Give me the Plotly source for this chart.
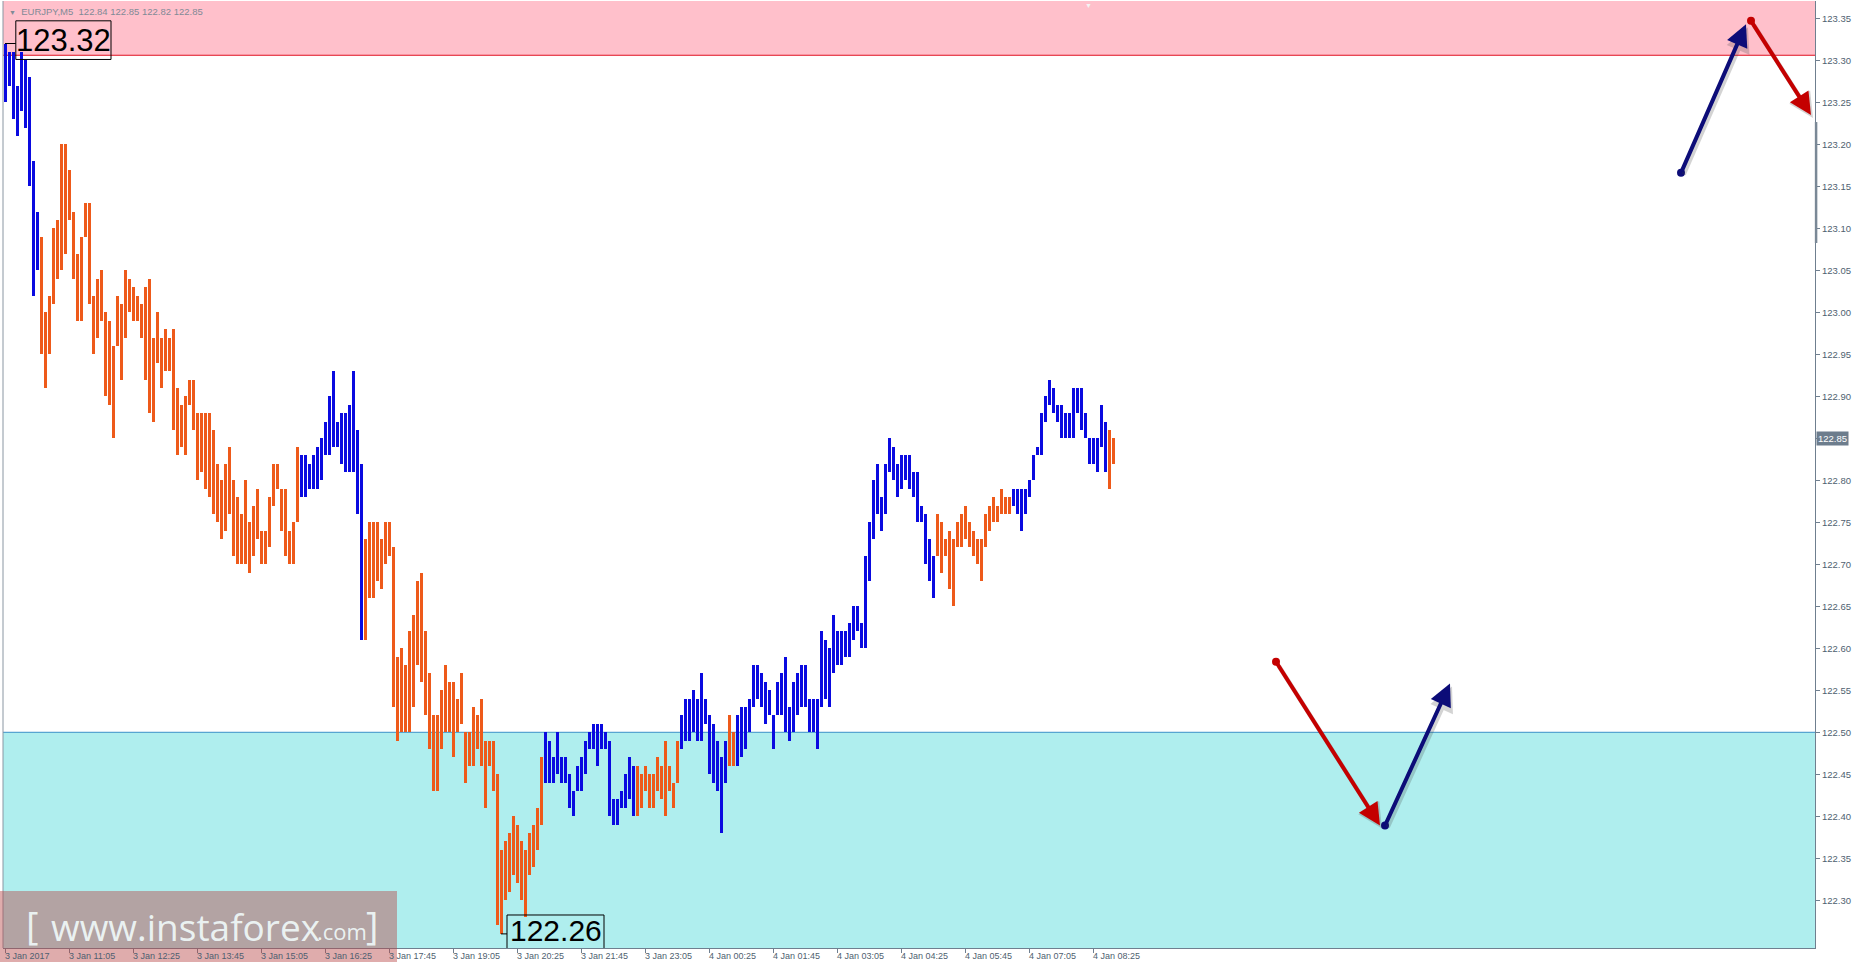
import numpy as np
import plotly.graph_objects as go

# ---------------- data (EURJPY M5) ----------------
bar_high = [
    123.32, 123.31, 123.31, 123.27, 123.31, 123.30, 123.28, 123.18, 123.12, 123.09,
    123.00, 123.02, 123.10, 123.11, 123.20, 123.20, 123.17, 123.12, 123.07, 123.09,
    123.13, 123.13, 123.02, 123.04, 123.05, 123.00, 122.99, 122.96, 123.02, 123.01,
    123.05, 123.04, 123.03, 123.02, 123.01, 123.03, 123.04, 122.97, 123.00, 122.97,
    122.98, 122.97, 122.98, 122.91, 122.89, 122.90, 122.92, 122.92, 122.88, 122.88,
    122.88, 122.88, 122.86, 122.82, 122.80, 122.82, 122.84, 122.80, 122.78, 122.76,
    122.80, 122.75, 122.77, 122.79, 122.74, 122.74, 122.78, 122.82, 122.82, 122.79,
    122.79, 122.74, 122.75, 122.84, 122.83, 122.83, 122.82, 122.83, 122.84, 122.85,
    122.87, 122.90, 122.93, 122.87, 122.88, 122.88, 122.89, 122.93, 122.86, 122.82,
    122.73, 122.75, 122.75, 122.75, 122.73, 122.75, 122.75, 122.72, 122.59, 122.60,
    122.58, 122.62, 122.64, 122.68, 122.69, 122.62, 122.57, 122.52, 122.52, 122.55,
    122.58, 122.56, 122.56, 122.54, 122.57, 122.50, 122.50, 122.53, 122.52, 122.54,
    122.49, 122.49, 122.49, 122.45, 122.36, 122.37, 122.38, 122.40, 122.39, 122.37,
    122.36, 122.38, 122.39, 122.41, 122.47, 122.50, 122.49, 122.47, 122.50, 122.47,
    122.47, 122.45, 122.43, 122.46, 122.47, 122.49, 122.50, 122.51, 122.51, 122.51,
    122.50, 122.49, 122.42, 122.42, 122.43, 122.45, 122.47, 122.46, 122.46, 122.45,
    122.46, 122.45, 122.45, 122.47, 122.46, 122.49, 122.46, 122.44, 122.49, 122.52,
    122.54, 122.54, 122.55, 122.54, 122.57, 122.54, 122.52, 122.51, 122.49, 122.47,
    122.49, 122.52, 122.50, 122.52, 122.53, 122.53, 122.54, 122.58, 122.58, 122.57,
    122.56, 122.55, 122.52, 122.56, 122.57, 122.59, 122.53, 122.56, 122.57, 122.58,
    122.58, 122.54, 122.54, 122.54, 122.62, 122.61, 122.60, 122.64, 122.62, 122.62,
    122.62, 122.63, 122.65, 122.65, 122.63, 122.71, 122.75, 122.80, 122.82, 122.78,
    122.82, 122.85, 122.84, 122.82, 122.83, 122.83, 122.83, 122.81, 122.81, 122.77,
    122.76, 122.73, 122.71, 122.76, 122.75, 122.73, 122.74, 122.73, 122.75, 122.76,
    122.77, 122.75, 122.74, 122.73, 122.73, 122.76, 122.77, 122.78, 122.77, 122.79,
    122.78, 122.78, 122.79, 122.79, 122.79, 122.79, 122.80, 122.83, 122.84, 122.88,
    122.90, 122.92, 122.91, 122.89, 122.89, 122.88, 122.88, 122.91, 122.91, 122.91,
    122.88, 122.85, 122.85, 122.85, 122.89, 122.87, 122.86, 122.85,
]
bar_low = [
    123.25, 123.27, 123.23, 123.21, 123.24, 123.22, 123.15, 123.02, 123.05, 122.95,
    122.91, 122.95, 123.01, 123.04, 123.05, 123.07, 123.11, 123.04, 122.99, 122.99,
    123.09, 123.01, 122.95, 122.97, 122.99, 122.90, 122.89, 122.85, 122.96, 122.92,
    122.97, 123.00, 122.99, 122.99, 122.97, 122.92, 122.88, 122.87, 122.94, 122.91,
    122.93, 122.93, 122.86, 122.83, 122.84, 122.83, 122.89, 122.86, 122.80, 122.81,
    122.79, 122.78, 122.76, 122.75, 122.73, 122.74, 122.76, 122.71, 122.70, 122.70,
    122.70, 122.69, 122.71, 122.73, 122.70, 122.70, 122.72, 122.77, 122.79, 122.74,
    122.71, 122.70, 122.70, 122.75, 122.78, 122.78, 122.79, 122.79, 122.79, 122.80,
    122.83, 122.83, 122.84, 122.84, 122.82, 122.81, 122.81, 122.81, 122.76, 122.61,
    122.61, 122.66, 122.66, 122.68, 122.67, 122.70, 122.71, 122.53, 122.49, 122.50,
    122.50, 122.50, 122.53, 122.58, 122.56, 122.52, 122.48, 122.43, 122.43, 122.48,
    122.50, 122.50, 122.47, 122.50, 122.51, 122.44, 122.46, 122.46, 122.48, 122.46,
    122.41, 122.46, 122.43, 122.27, 122.26, 122.30, 122.31, 122.33, 122.32, 122.30,
    122.28, 122.33, 122.34, 122.36, 122.39, 122.44, 122.44, 122.44, 122.45, 122.44,
    122.44, 122.41, 122.40, 122.43, 122.43, 122.45, 122.48, 122.48, 122.46, 122.48,
    122.48, 122.40, 122.39, 122.39, 122.41, 122.41, 122.42, 122.40, 122.40, 122.41,
    122.43, 122.41, 122.41, 122.43, 122.42, 122.40, 122.43, 122.41, 122.44, 122.48,
    122.49, 122.49, 122.50, 122.49, 122.49, 122.51, 122.45, 122.44, 122.43, 122.38,
    122.44, 122.46, 122.46, 122.46, 122.47, 122.48, 122.50, 122.53, 122.54, 122.53,
    122.51, 122.52, 122.48, 122.52, 122.52, 122.50, 122.49, 122.50, 122.52, 122.53,
    122.53, 122.50, 122.50, 122.48, 122.53, 122.54, 122.53, 122.57, 122.58, 122.58,
    122.59, 122.59, 122.61, 122.62, 122.60, 122.60, 122.68, 122.73, 122.76, 122.74,
    122.76, 122.81, 122.80, 122.78, 122.79, 122.80, 122.79, 122.78, 122.75, 122.75,
    122.70, 122.68, 122.66, 122.71, 122.69, 122.71, 122.67, 122.65, 122.72, 122.72,
    122.73, 122.72, 122.71, 122.70, 122.68, 122.72, 122.74, 122.75, 122.75, 122.76,
    122.76, 122.76, 122.77, 122.76, 122.74, 122.76, 122.78, 122.80, 122.83, 122.83,
    122.87, 122.89, 122.88, 122.87, 122.85, 122.85, 122.85, 122.85, 122.88, 122.86,
    122.85, 122.82, 122.82, 122.81, 122.84, 122.81, 122.79, 122.82,
]
# runs of bars (first, last index) coloured as rising wave, the rest are falling
up_runs = [(0, 8), (74, 89), (135, 157), (169, 180), (183, 232), (252, 275)]

time_labels = ["3 Jan 2017", "3 Jan 11:05", "3 Jan 12:25", "3 Jan 13:45", "3 Jan 15:05",
               "3 Jan 16:25", "3 Jan 17:45", "3 Jan 19:05", "3 Jan 20:25", "3 Jan 21:45",
               "3 Jan 23:05", "4 Jan 00:25", "4 Jan 01:45", "4 Jan 03:05", "4 Jan 04:25",
               "4 Jan 05:45", "4 Jan 07:05", "4 Jan 08:25"]
label_step = 16  # bars between time labels

resistance_level = 123.306
support_level = 122.50
last_price = 122.85
header_text = "EURJPY,M5  122.84 122.85 122.82 122.85"

# forecast arrows: (bar index, price) start -> end
arrow_x0 = [419.0, 436.5, 317.75, 345.0]
arrow_y0 = [123.166, 123.347, 122.584, 122.389]
arrow_x1 = [435.25, 451.5, 343.75, 361.25]
arrow_y1 = [123.343, 123.235, 122.389, 122.558]
arrow_up = [True, False, False, True]

# ---------------- styling ----------------
UP_COLOR = "#0a0ae0"
DN_COLOR = "#ee5a1a"
AX_COLOR = "#6f7f8f"
TXT_COLOR = "#4f5f70"
X_RANGE = [-0.5, 452.5]
Y_RANGE = [122.2432, 123.3706]

n = len(bar_high)
idx = list(range(n))
colors = [DN_COLOR] * n
for a, b in up_runs:
    for k in range(a, b + 1):
        colors[k] = UP_COLOR

fig = go.Figure()
fig.add_trace(go.Bar(
    x=idx,
    y=[h - l for h, l in zip(bar_high, bar_low)],
    base=bar_low,
    width=0.75,
    marker=dict(color=colors, line=dict(width=0)),
    hoverinfo="skip",
))

shapes = []
# resistance zone (pink) and support zone (cyan)
shapes.append(dict(type="rect", xref="paper", yref="y", x0=0, x1=1,
                   y0=resistance_level, y1=Y_RANGE[1] + 0.01,
                   fillcolor="#ffc0cb", line=dict(width=0), layer="below"))
shapes.append(dict(type="line", xref="paper", yref="y", x0=0, x1=1,
                   y0=resistance_level, y1=resistance_level,
                   line=dict(color="#e01020", width=1), layer="below"))
shapes.append(dict(type="rect", xref="paper", yref="y", x0=0, x1=1,
                   y0=Y_RANGE[0] - 0.01, y1=support_level,
                   fillcolor="#afeeee", line=dict(width=0), layer="below"))
shapes.append(dict(type="line", xref="paper", yref="y", x0=0, x1=1,
                   y0=support_level, y1=support_level,
                   line=dict(color="#3a90c8", width=1), layer="below"))

# extreme labels
i_hi = int(np.argmax(bar_high))
i_lo = int(np.argmin(bar_low))
hi_val = bar_high[i_hi]
lo_val = bar_low[i_lo]
# box for the high
bx0, bx1 = i_hi + 2.7, i_hi + 26.5
shapes.append(dict(type="line", xref="x", yref="y", x0=i_hi, x1=bx0, y0=hi_val, y1=hi_val,
                   line=dict(color="black", width=1)))
shapes.append(dict(type="rect", xref="x", yref="y", x0=bx0, x1=bx1,
                   y0=hi_val - 0.019, y1=hi_val + 0.027,
                   line=dict(color="black", width=1), fillcolor="rgba(0,0,0,0)"))
# box for the low
lx0, lx1 = i_lo + 1.5, i_lo + 25.75
shapes.append(dict(type="line", xref="x", yref="y", x0=i_lo, x1=lx0, y0=lo_val, y1=lo_val,
                   line=dict(color="black", width=1)))
shapes.append(dict(type="rect", xref="x", yref="y", x0=lx0, x1=lx1,
                   y0=lo_val - 0.03, y1=lo_val + 0.0225,
                   line=dict(color="black", width=1), fillcolor="rgba(0,0,0,0)"))

# left border and axis scroll marker
shapes.append(dict(type="line", xref="paper", yref="paper", x0=0, x1=0, y0=0, y1=1,
                   line=dict(color="#8a96a2", width=1)))
shapes.append(dict(type="line", xref="paper", yref="y", x0=1.0006, x1=1.0006,
                   y0=123.0825, y1=123.2265, line=dict(color="#7a8896", width=2.5)))

# watermark box
shapes.append(dict(type="rect", xref="paper", yref="paper",
                   x0=-3 / 1812, x1=394 / 1812, y0=-14 / 947, y1=57 / 947,
                   fillcolor="rgba(185,70,70,0.45)", line=dict(width=0), layer="above"))

annotations = []
# time labels (left aligned at tick)
tickvals = [k * label_step for k in range(len(time_labels))]
for tv, tl in zip(tickvals, time_labels):
    annotations.append(dict(x=tv, y=0, xref="x", yref="paper", text=tl, showarrow=False,
                            xanchor="left", yanchor="top", xshift=-2, yshift=-1,
                            font=dict(size=9, color=TXT_COLOR, family="Liberation Sans")))

# extreme value texts
annotations.append(dict(x=(bx0 + bx1) / 2, y=hi_val + 0.003, xref="x", yref="y",
                        text=f"{hi_val:.2f}", showarrow=False,
                        font=dict(size=31, color="black", family="Liberation Sans")))
annotations.append(dict(x=(lx0 + lx1) / 2, y=lo_val + 0.0046, xref="x", yref="y",
                        text=f"{lo_val:.2f}", showarrow=False, borderpad=0,
                        font=dict(size=30, color="black", family="Liberation Sans")))

# current price tag on the axis
annotations.append(dict(x=1, y=last_price, xref="paper", yref="y", text=f"{last_price:.2f}",
                        showarrow=False, xanchor="left", xshift=1, bgcolor="#6d7d8d",
                        borderpad=1, font=dict(size=9.5, color="white", family="Liberation Sans")))

# header
annotations.append(dict(x=0, y=1, xref="paper", yref="paper",
                        text="<span style='font-size:7px'>▼</span>  " + header_text,
                        showarrow=False, xanchor="left", yanchor="top", xshift=4, yshift=-3,
                        font=dict(size=9.5, color="#7f8a96", family="Liberation Sans")))
# chart-shift marker
annotations.append(dict(x=(1088 - 3) / 1812, y=1, xref="paper", yref="paper", text="▼",
                        showarrow=False, yanchor="top", yshift=1,
                        font=dict(size=7, color="#f4f4f4")))

# watermark texts
wm_font = dict(family="Open Sans", color="rgba(240,250,250,0.92)")
annotations.append(dict(x=22 / 1812, y=23 / 947, xref="paper", yref="paper", text="[",
                        showarrow=False, xanchor="left", yanchor="middle", borderpad=0,
                        font=dict(size=38, **wm_font)))
annotations.append(dict(x=46 / 1812, y=22 / 947, xref="paper", yref="paper",
                        text="www.instaforex", showarrow=False, xanchor="left",
                        yanchor="middle", font=dict(size=37, **wm_font)))
annotations.append(dict(x=312 / 1812, y=17 / 947, xref="paper", yref="paper",
                        text=".com", showarrow=False, xanchor="left", yanchor="middle",
                        font=dict(size=22, **wm_font)))
annotations.append(dict(x=362 / 1812, y=23 / 947, xref="paper", yref="paper", text="]",
                        showarrow=False, xanchor="left", yanchor="middle", borderpad=0,
                        font=dict(size=38, **wm_font)))

# forecast arrows: shadows first, then arrows
for x0, y0, x1, y1, up in zip(arrow_x0, arrow_y0, arrow_x1, arrow_y1, arrow_up):
    annotations.append(dict(x=x1, y=y1, ax=x0, ay=y0, xref="x", yref="y", axref="x",
                            ayref="y", text="", showarrow=True, arrowhead=2, arrowsize=1.1,
                            arrowwidth=4.5, arrowcolor="rgba(60,60,60,0.22)",
                            xshift=2, yshift=-3))
for x0, y0, x1, y1, up in zip(arrow_x0, arrow_y0, arrow_x1, arrow_y1, arrow_up):
    annotations.append(dict(x=x1, y=y1, ax=x0, ay=y0, xref="x", yref="y", axref="x",
                            ayref="y", text="", showarrow=True, arrowhead=2, arrowsize=1.1,
                            arrowwidth=4, arrowcolor="#0c0c78" if up else "#c40000"))

fig.add_trace(go.Scatter(
    x=arrow_x0, y=arrow_y0, mode="markers",
    marker=dict(size=8, color=["#0c0c78" if u else "#c40000" for u in arrow_up]),
    hoverinfo="skip", cliponaxis=False,
))

ytick_vals = [round(v, 2) for v in np.arange(122.30, 123.351, 0.05)]
# the current-price tag replaces the regular label at that level
ytick_text = ["" if abs(v - last_price) < 1e-9 else f"{v:.2f}" for v in ytick_vals]

fig.update_layout(
    width=1857, height=962,
    margin=dict(l=3, r=42, t=1, b=14),
    plot_bgcolor="white", paper_bgcolor="white",
    showlegend=False, bargap=0,
    font=dict(family="Liberation Sans"),
    shapes=shapes, annotations=annotations,
    xaxis=dict(range=X_RANGE, showgrid=False, zeroline=False, showline=True,
               linecolor=AX_COLOR, linewidth=1, ticks="outside", ticklen=4,
               tickcolor=AX_COLOR, tickvals=tickvals, showticklabels=False,
               fixedrange=True),
    yaxis=dict(range=Y_RANGE, side="right", showgrid=False, zeroline=False,
               showline=True, linecolor=AX_COLOR, linewidth=1, ticks="outside",
               ticklen=4, tickcolor=AX_COLOR, tickvals=ytick_vals,
               ticktext=ytick_text,
               tickfont=dict(size=9.5, color=TXT_COLOR, family="Liberation Sans"),
               fixedrange=True),
)

fig.write_html("out.html", config={"displayModeBar": False},
               post_script="document.body.style.margin='0';document.body.style.overflow='hidden';")
